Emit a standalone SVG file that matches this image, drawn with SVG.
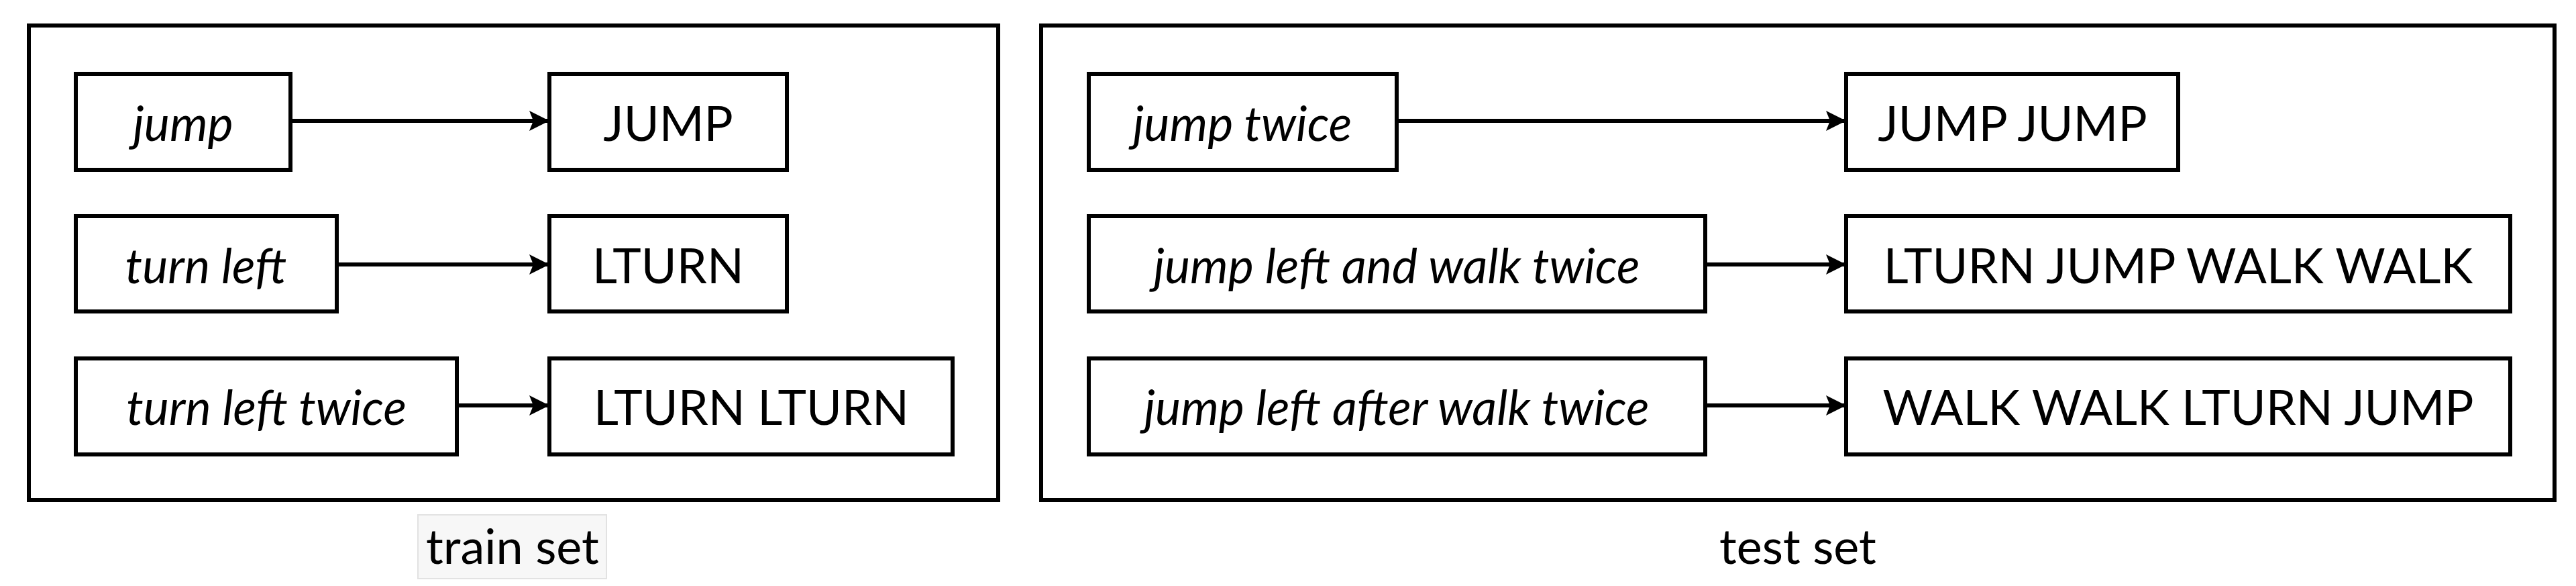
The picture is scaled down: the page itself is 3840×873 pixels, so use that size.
<svg xmlns="http://www.w3.org/2000/svg" width="3840" height="873" viewBox="0 0 3840 873">
<style>
.box{fill:#fff;stroke:#000;stroke-width:6}
.frame{fill:none;stroke:#000;stroke-width:6}
.t{font-family:Lato,"Open Sans",sans-serif;font-size:72px;fill:#000;text-anchor:middle;dominant-baseline:central}
.i{font-style:italic}
.c{stroke:#000;stroke-width:6;fill:none;marker-end:url(#ah)}
</style>
<defs><marker id="ah" viewBox="0 0 10 10" refX="10" refY="5" markerWidth="5" markerHeight="5" orient="auto" markerUnits="strokeWidth"><path d="M0,0L10,5L0,10L2,5z" fill="#000"/></marker></defs>
<rect width="3840" height="873" fill="#fff"/>
<g id="train-frame"><rect class="frame" x="43" y="38" width="1445" height="707"/>
<rect x="623" y="767" width="281" height="95" fill="#f7f7f7" stroke="#e2e2e2" stroke-width="2"/>
<text class="t" x="764" y="812">train set</text></g>
<g id="test-frame"><rect class="frame" x="1552" y="38" width="2256" height="707"/>
<text class="t" x="2680" y="812">test set</text></g>
<g id="connectors">
<path class="c" d="M433,180H819"/><path class="c" d="M502,394H819"/><path class="c" d="M681,604H819"/>
<path class="c" d="M2082,180H2752"/><path class="c" d="M2542,394H2752"/><path class="c" d="M2542,604H2752"/>
</g>
<g id="n1"><rect class="box" x="113" y="110" width="320" height="143"/><text class="t i" x="273" y="182">jump</text></g>
<g id="n2"><rect class="box" x="113" y="322" width="389" height="142"/><text class="t i" x="307" y="394">turn left</text></g>
<g id="n3"><rect class="box" x="113" y="534" width="568" height="143"/><text class="t i" x="397" y="605">turn left twice</text></g>
<g id="n4"><rect class="box" x="819" y="110" width="354" height="143"/><text class="t" x="996" y="182">JUMP</text></g>
<g id="n5"><rect class="box" x="819" y="322" width="354" height="142"/><text class="t" x="996" y="394">LTURN</text></g>
<g id="n6"><rect class="box" x="819" y="534" width="601" height="143"/><text class="t" x="1120" y="605">LTURN LTURN</text></g>
<g id="n7"><rect class="box" x="1623" y="110" width="459" height="143"/><text class="t i" x="1852" y="182">jump twice</text></g>
<g id="n8"><rect class="box" x="1623" y="322" width="919" height="142"/><text class="t i" x="2082" y="394">jump left and walk twice</text></g>
<g id="n9"><rect class="box" x="1623" y="534" width="919" height="143"/><text class="t i" x="2082" y="605">jump left after walk twice</text></g>
<g id="n10"><rect class="box" x="2752" y="110" width="495" height="143"/><text class="t" x="3000" y="182">JUMP JUMP</text></g>
<g id="n11"><rect class="box" x="2752" y="322" width="990" height="142"/><text class="t" x="3247" y="394">LTURN JUMP WALK WALK</text></g>
<g id="n12"><rect class="box" x="2752" y="534" width="990" height="143"/><text class="t" x="3247" y="605">WALK WALK LTURN JUMP</text></g>
</svg>
